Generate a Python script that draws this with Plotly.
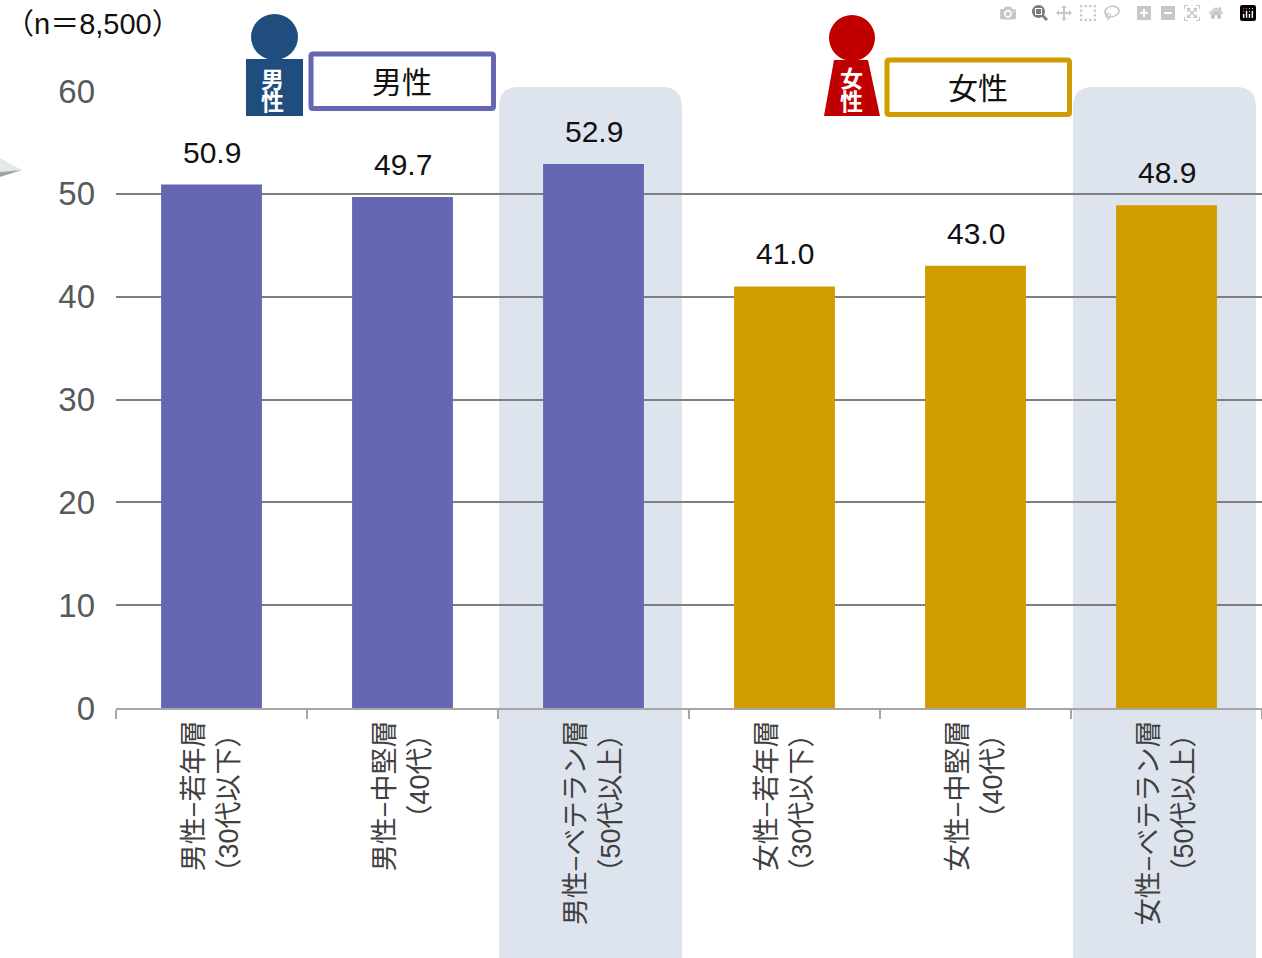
import plotly.graph_objects as go

categories = ["男性−若年層<br>（30代以下）", "男性−中堅層<br>（40代）", "男性−ベテラン層<br>（50代以上）",
              "女性−若年層<br>（30代以下）", "女性−中堅層<br>（40代）", "女性−ベテラン層<br>（50代以上）"]
values = [50.9, 49.7, 52.9, 41.0, 43.0, 48.9]
bar_colors = ["#6567B3"] * 3 + ["#D19C00"] * 3
y_ticks = [0, 10, 20, 30, 40, 50, 60]

W, H = 1262, 958
L, R, T, B = 116, 1262, 91, 708.5
FONT = "Liberation Sans, Arial, Noto Sans CJK JP, sans-serif"


def X(px):
    return (px - L) / (R - L)


def Y(py):
    return (B - py) / (B - T)


def rounded(x0, y0, x1, y1, r):
    return (f"M {X(x0 + r)} {Y(y0)} L {X(x1 - r)} {Y(y0)} Q {X(x1)} {Y(y0)} {X(x1)} {Y(y0 + r)} "
            f"L {X(x1)} {Y(y1 - r)} Q {X(x1)} {Y(y1)} {X(x1 - r)} {Y(y1)} "
            f"L {X(x0 + r)} {Y(y1)} Q {X(x0)} {Y(y1)} {X(x0)} {Y(y1 - r)} "
            f"L {X(x0)} {Y(y0 + r)} Q {X(x0)} {Y(y0)} {X(x0 + r)} {Y(y0)} Z")


def poly(pts):
    return "M " + " L ".join(f"{X(a)} {Y(b)}" for a, b in pts) + " Z"


shapes = []
# highlight panels
for x0, x1 in [(499, 682), (1073, 1256)]:
    shapes.append(dict(type="path", xref="paper", yref="paper", layer="below",
                       path=rounded(x0, 87, x1, 985, 20),
                       fillcolor="#DEE4ED", line=dict(width=0)))
# cut-off arrow fragment at the left edge
shapes.append(dict(type="path", xref="paper", yref="paper", layer="above",
                   path=poly([(0, 158), (22, 170), (0, 172)]), fillcolor="#E4EBE6", line=dict(width=0)))
shapes.append(dict(type="path", xref="paper", yref="paper", layer="above",
                   path=poly([(0, 172), (22, 170), (0, 177)]), fillcolor="#A3A3A3", line=dict(width=0)))
# male icon
shapes.append(dict(type="circle", xref="paper", yref="paper", layer="above",
                   x0=X(251), x1=X(298), y0=Y(14), y1=Y(60), fillcolor="#1F4E7E", line=dict(width=0)))
shapes.append(dict(type="rect", xref="paper", yref="paper", layer="above",
                   x0=X(246), x1=X(303), y0=Y(59), y1=Y(116), fillcolor="#1F4E7E", line=dict(width=0)))
# female icon
shapes.append(dict(type="circle", xref="paper", yref="paper", layer="above",
                   x0=X(829), x1=X(875), y0=Y(15), y1=Y(61), fillcolor="#C00000", line=dict(width=0)))
shapes.append(dict(type="path", xref="paper", yref="paper", layer="above",
                   path=poly([(834, 60), (868, 60), (880, 116), (824, 116)]),
                   fillcolor="#C00000", line=dict(width=0)))
# label boxes
shapes.append(dict(type="path", xref="paper", yref="paper", layer="above",
                   path=rounded(311, 54, 493.5, 108.5, 2), fillcolor="#FFFFFF",
                   line=dict(color="#6567B3", width=5)))
shapes.append(dict(type="path", xref="paper", yref="paper", layer="above",
                   path=rounded(887, 60, 1069.5, 114.5, 2), fillcolor="#FFFFFF",
                   line=dict(color="#D19C00", width=5)))


def note(text, px, py, size, color="#111111", bold=False):
    return dict(text=f"<b>{text}</b>" if bold else text, xref="paper", yref="paper",
                x=X(px), y=Y(py), xanchor="center", yanchor="middle", showarrow=False,
                font=dict(size=size, color=color, family=FONT))


annotations = [
    note("（n＝8,500）", 93, 24, 29, "#111111"),
    note("男性", 402, 82, 30),
    note("女性", 978, 88, 30),
    note("男", 272, 80, 23, "#FFFFFF", True),
    note("性", 272, 102, 23, "#FFFFFF", True),
    note("女", 851, 79, 23, "#FFFFFF", True),
    note("性", 851, 102, 23, "#FFFFFF", True),
]
for c, v in zip(categories, values):
    annotations.append(dict(x=c, y=v, xref="x", yref="y", text=f"{v:.1f}", showarrow=False,
                            xanchor="center", yanchor="bottom", yshift=14,
                            font=dict(size=30, color="#111111", family=FONT)))

fig = go.Figure(go.Bar(x=categories, y=values, marker=dict(color=bar_colors, line=dict(width=0)),
                       width=0.528, cliponaxis=False, hoverinfo="skip"))
fig.update_layout(
    width=W, height=H, autosize=False,
    margin=dict(l=L, r=W - R, t=T, b=H - B, pad=0),
    paper_bgcolor="#FFFFFF", plot_bgcolor="rgba(0,0,0,0)",
    showlegend=False, shapes=shapes, annotations=annotations,
    font=dict(family=FONT),
)
fig.update_xaxes(type="category", tickson="boundaries", ticks="outside", ticklen=9, tickwidth=1.5,
                 tickcolor="#A6A6A6", showline=True, linecolor="#A6A6A6", linewidth=1.5,
                 showgrid=False, tickangle=-90, automargin=False,
                 tickfont=dict(size=27, color="#404040", family=FONT), range=[-0.5, 5.5])
fig.update_yaxes(range=[0, 60], tickvals=y_ticks, ticktext=[str(t) for t in y_ticks],
                 showgrid=True, gridcolor="#7F7F7F", gridwidth=1.5, zeroline=False,
                 showline=False, ticks="", automargin=False,
                 tickfont=dict(size=33, color="#595959", family=FONT), ticklabelstandoff=20)
fig.write_html("out.html", post_script="document.body.style.margin='0';document.body.style.overflow='hidden';")
